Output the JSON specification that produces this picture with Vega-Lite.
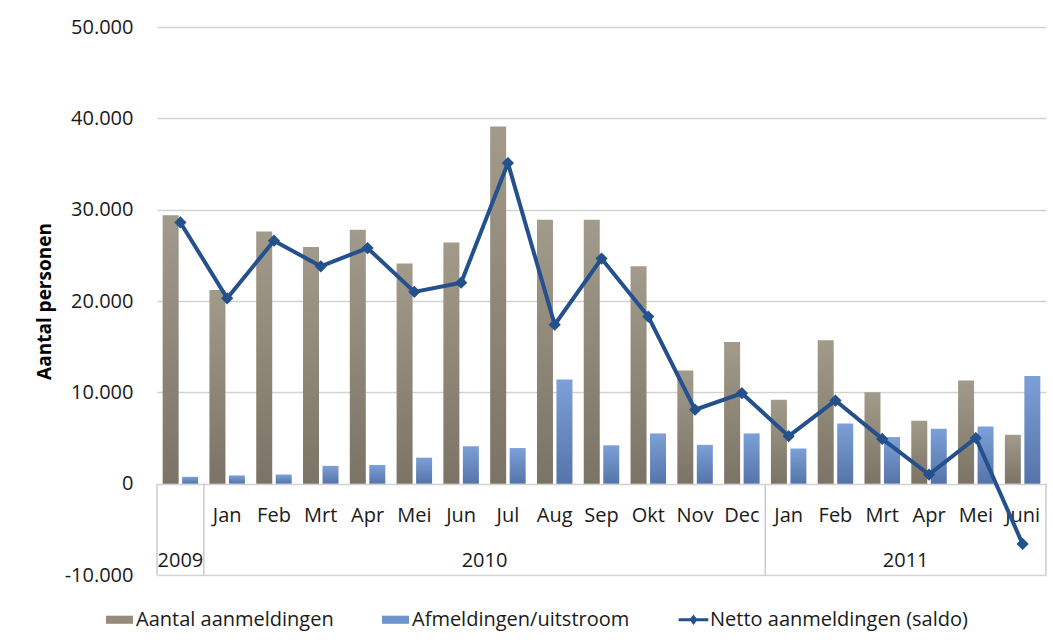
{
  "$schema": "https://vega.github.io/schema/vega-lite/v6.json",
  "width": 889,
  "height": 548,
  "autosize": {"type": "none"},
  "padding": {"left": 157, "top": 27, "right": 7, "bottom": 69},
  "config": {
    "view": {"stroke": null},
    "font": "Open Sans",
    "text": {"font": "Open Sans"}
  },
  "datasets": {
    "main": [
      {"cat": "2009", "month": "", "aantal": 29400, "afmeld": 750, "netto": 28600},
      {"cat": "2010-Jan", "month": "Jan", "aantal": 21200, "afmeld": 900, "netto": 20300},
      {"cat": "2010-Feb", "month": "Feb", "aantal": 27600, "afmeld": 1000, "netto": 26600},
      {"cat": "2010-Mrt", "month": "Mrt", "aantal": 25900, "afmeld": 1950, "netto": 23800},
      {"cat": "2010-Apr", "month": "Apr", "aantal": 27800, "afmeld": 2050, "netto": 25800},
      {"cat": "2010-Mei", "month": "Mei", "aantal": 24100, "afmeld": 2850, "netto": 21000},
      {"cat": "2010-Jun", "month": "Jun", "aantal": 26400, "afmeld": 4100, "netto": 22000},
      {"cat": "2010-Jul", "month": "Jul", "aantal": 39100, "afmeld": 3900, "netto": 35100},
      {"cat": "2010-Aug", "month": "Aug", "aantal": 28900, "afmeld": 11400, "netto": 17400},
      {"cat": "2010-Sep", "month": "Sep", "aantal": 28900, "afmeld": 4200, "netto": 24650},
      {"cat": "2010-Okt", "month": "Okt", "aantal": 23800, "afmeld": 5500, "netto": 18300},
      {"cat": "2010-Nov", "month": "Nov", "aantal": 12400, "afmeld": 4250, "netto": 8100},
      {"cat": "2010-Dec", "month": "Dec", "aantal": 15500, "afmeld": 5500, "netto": 9900},
      {"cat": "2011-Jan", "month": "Jan", "aantal": 9200, "afmeld": 3850, "netto": 5200},
      {"cat": "2011-Feb", "month": "Feb", "aantal": 15700, "afmeld": 6600, "netto": 9100},
      {"cat": "2011-Mrt", "month": "Mrt", "aantal": 10000, "afmeld": 5100, "netto": 4900},
      {"cat": "2011-Apr", "month": "Apr", "aantal": 6900, "afmeld": 6000, "netto": 1000},
      {"cat": "2011-Mei", "month": "Mei", "aantal": 11300, "afmeld": 6250, "netto": 5000},
      {"cat": "2011-Juni", "month": "Juni", "aantal": 5350, "afmeld": 11800, "netto": -6600}
    ],
    "yearsMid": [
      {"cat": "2010-Jun", "label": "2010"},
      {"cat": "2011-Mrt", "label": "2011"}
    ],
    "yearsCell": [
      {"cat": "2009", "label": "2009"}
    ],
    "sepsLeft": [
      {"cat": "2009"},
      {"cat": "2010-Jan"},
      {"cat": "2011-Jan"}
    ],
    "sepsRight": [
      {"cat": "2011-Juni"}
    ]
  },
  "encoding": {
    "x": {
      "field": "cat",
      "type": "nominal",
      "sort": null,
      "axis": null,
      "scale": {
        "domain": ["2009", "2010-Jan", "2010-Feb", "2010-Mrt", "2010-Apr", "2010-Mei", "2010-Jun", "2010-Jul", "2010-Aug", "2010-Sep", "2010-Okt", "2010-Nov", "2010-Dec", "2011-Jan", "2011-Feb", "2011-Mrt", "2011-Apr", "2011-Mei", "2011-Juni"],
        "paddingInner": 0,
        "paddingOuter": 0
      }
    }
  },
  "layer": [
    {
      "data": {"name": "main"},
      "mark": {
        "type": "bar",
        "color": {"gradient": "linear", "x1": 0, "y1": 0, "x2": 0, "y2": 1, "stops": [{"offset": 0, "color": "#a29a8a"}, {"offset": 1, "color": "#7b7365"}]}
      },
      "encoding": {
        "xOffset": {"datum": "A", "scale": {"domain": ["A", "B"], "paddingInner": 0.18, "paddingOuter": 0.29}},
        "y": {
          "field": "aantal",
          "type": "quantitative",
          "scale": {"domain": [-10000, 50000], "nice": false},
          "axis": {
            "title": "Aantal personen",
            "values": [-10000, 0, 10000, 20000, 30000, 40000, 50000],
            "labelExpr": "datum.value === 0 ? '0' : (datum.value / 1000) + '.000'",
            "grid": true,
            "gridColor": "#d2d2d2",
            "gridWidth": 1.5,
            "domain": false,
            "ticks": false,
            "labelPadding": 24,
            "labelFontSize": 20,
            "labelColor": "#1a1a1a",
            "labelFont": "Open Sans",
            "titleFont": "Open Sans",
            "titleFontSize": 19,
            "titleFontWeight": "bold",
            "titleColor": "#000000",
            "titlePadding": 10
          }
        }
      }
    },
    {
      "data": {"name": "main"},
      "mark": {
        "type": "bar",
        "color": {"gradient": "linear", "x1": 0, "y1": 0, "x2": 0, "y2": 1, "stops": [{"offset": 0, "color": "#7ca0d8"}, {"offset": 1, "color": "#5574a9"}]}
      },
      "encoding": {
        "xOffset": {"datum": "B"},
        "y": {"field": "afmeld", "type": "quantitative"}
      }
    },
    {
      "data": {"name": "sepsLeft"},
      "mark": {"type": "rule", "color": "#cccccc", "strokeWidth": 1.5},
      "encoding": {
        "x": {"field": "cat", "type": "nominal", "bandPosition": 0},
        "y": {"datum": 0, "type": "quantitative"},
        "y2": {"datum": -10000}
      }
    },
    {
      "data": {"name": "sepsRight"},
      "mark": {"type": "rule", "color": "#cccccc", "strokeWidth": 1.5},
      "encoding": {
        "x": {"field": "cat", "type": "nominal", "bandPosition": 1},
        "y": {"datum": 0, "type": "quantitative"},
        "y2": {"datum": -10000}
      }
    },
    {
      "data": {"name": "main"},
      "mark": {"type": "text", "fontSize": 20, "baseline": "middle", "align": "center", "color": "#1a1a1a"},
      "encoding": {
        "y": {"datum": -3500, "type": "quantitative"},
        "text": {"field": "month"}
      }
    },
    {
      "data": {"name": "yearsMid"},
      "mark": {"type": "text", "fontSize": 20, "baseline": "middle", "align": "center", "color": "#1a1a1a"},
      "encoding": {
        "x": {"field": "cat", "type": "nominal", "bandPosition": 1},
        "y": {"datum": -8450, "type": "quantitative"},
        "text": {"field": "label"}
      }
    },
    {
      "data": {"name": "yearsCell"},
      "mark": {"type": "text", "fontSize": 20, "baseline": "middle", "align": "center", "color": "#1a1a1a"},
      "encoding": {
        "y": {"datum": -8450, "type": "quantitative"},
        "text": {"field": "label"}
      }
    },
    {
      "data": {"name": "main"},
      "mark": {"type": "line", "strokeWidth": 4, "strokeJoin": "miter"},
      "encoding": {
        "y": {"field": "netto", "type": "quantitative"},
        "color": {
          "datum": "Netto aanmeldingen (saldo)",
          "scale": {
            "domain": ["Aantal aanmeldingen", "Afmeldingen/uitstroom", "Netto aanmeldingen (saldo)"],
            "range": ["#958c7c", "#7094cc", "#25508e"]
          },
          "legend": {
            "title": null,
            "orient": "none",
            "legendX": -51,
            "legendY": 579,
            "direction": "horizontal",
            "symbolSize": 729,
            "labelFontSize": 20,
            "labelFont": "Open Sans",
            "labelColor": "#1a1a1a",
            "labelOffset": 3,
            "columnPadding": 48,
            "labelLimit": 400,
            "encode": {
              "symbols": {
                "update": {
                  "shape": {"signal": "datum.value === 'Netto aanmeldingen (saldo)' ? 'M-1.1,-0.11H1.1V0.11H-1.1Z M0,-0.38L0.3,0L0,0.38L-0.3,0Z' : 'M-1,-0.3H1V0.3H-1Z'"},
                  "fill": {"scale": "color", "field": "value"},
                  "stroke": {"value": "transparent"},
                  "strokeWidth": {"value": 0},
                  "opacity": {"value": 1},
                  "fillOpacity": {"value": 1}
                }
              }
            }
          }
        }
      }
    },
    {
      "data": {"name": "main"},
      "mark": {"type": "point", "shape": "diamond", "filled": true, "size": 150, "color": "#25508e", "opacity": 1},
      "encoding": {
        "y": {"field": "netto", "type": "quantitative"}
      }
    }
  ]
}
